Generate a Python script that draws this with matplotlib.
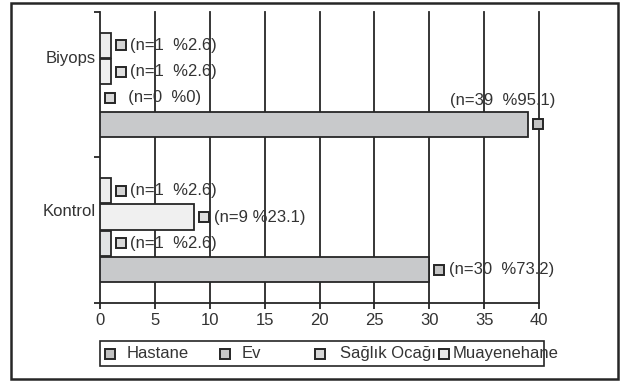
import matplotlib
matplotlib.use("Agg")
import numpy as np
import matplotlib.pyplot as plt
from matplotlib.patches import Rectangle
from matplotlib.lines import Line2D

plt.rcParams['font.family'] = ['Liberation Sans', 'DejaVu Sans']

# data (Biyops, Kontrol)
groups = ['Biyops', 'Kontrol']
series = ['Hastane', 'Ev', 'Sağlık Ocağı', 'Muayenehane']
hastane = [39, 30]
ev = [0, 1]
saglik = [1, 8.6]
muayene = [1, 1]
labels_hastane = ['(n=39  %95.1)', '(n=30  %73.2)']
labels_ev = ['  (n=0  %0)', '(n=1  %2.6)']
labels_saglik = ['(n=1  %2.6)', '(n=9 %23.1)']
labels_muayene = ['(n=1  %2.6)', '(n=1  %2.6)']
xticks = [0, 5, 10, 15, 20, 25, 30, 35, 40]

values = [hastane, ev, saglik, muayene]
labels = [labels_hastane, labels_ev, labels_saglik, labels_muayene]
bar_colors = ['#c8c9cb', '#e2e3e4', '#f0f0f0', '#ececec']
mark_colors = ['#c4c4c4', '#d9d9d9', '#dedede', '#d4d4d4']
ink = '#262626'
txt = '#333333'

fig = plt.figure(figsize=(6.22, 3.82), dpi=100)
ax = fig.add_axes([100/622, 1-303/382, 439/622, 291/382])

centers = [1.5, 0.5]  # Biyops on top
step = 0.181
shift = matplotlib.transforms.ScaledTranslation(7.2/72, 0, fig.dpi_scale_trans)
for j, (vals, labs) in enumerate(zip(values, labels)):
    for g in range(len(groups)):
        y = centers[g] + (j - 1.5) * step
        v = vals[g]
        if v > 0:
            ax.barh(y, v, height=0.175, color=bar_colors[j], edgecolor=ink,
                    linewidth=1.3, zorder=3)
        ax.plot([v], [y], marker='s', ms=7.5, mfc=mark_colors[j], mec=ink,
                mew=1.4, zorder=5, clip_on=False,
                transform=ax.transData + shift)
        if j == 0 and g == 0:
            ax.annotate(labs[g], xy=(v, y), xytext=(20, 17),
                        textcoords='offset points', ha='right', va='center',
                        fontsize=12, color=txt, zorder=6)
        else:
            ax.annotate(labs[g], xy=(v, y), xytext=(14, 0),
                        textcoords='offset points', ha='left', va='center',
                        fontsize=12, color=txt, zorder=6)

ax.set_xlim(0, 40)
ax.set_ylim(0, 2)
ax.set_xticks(xticks)
ax.set_xticklabels([str(t) for t in xticks])
for t in xticks[1:]:
    ax.axvline(t, color=ink, lw=1.3, zorder=1, clip_on=False)

ax.set_yticks([0, 1, 2])
ax.set_yticklabels([])
ax.set_yticks([1.69, 0.64], minor=True)
ax.set_yticklabels(groups, minor=True)
ax.tick_params(axis='y', which='minor', length=0, pad=3, labelsize=12,
               labelcolor=txt)
ax.tick_params(axis='y', which='major', length=4, width=1.3, color=ink,
               direction='out')
ax.tick_params(axis='x', length=4, width=1.3, color=ink, direction='out',
               labelsize=12, labelcolor=txt, pad=3)

for s in ['top', 'right']:
    ax.spines[s].set_visible(False)
for s in ['left', 'bottom']:
    ax.spines[s].set_color(ink)
    ax.spines[s].set_linewidth(1.3)

# legend box
W, H = 622, 382
fig.add_artist(Rectangle((100/W, 1-366/H), 444/W, 25/H, transform=fig.transFigure,
                         fill=False, edgecolor=ink, lw=1.2))
leg_x = [110, 225, 320, 444]
leg_colors = ['#c0c0c0', '#c8c8c8', '#d8d8d8', '#e8e8e8']
for name, lx, c in zip(series, leg_x, leg_colors):
    fig.add_artist(Line2D([lx/W], [1-353.5/H], marker='s', ms=7, mfc=c, mec=ink,
                          mew=1.4, transform=fig.transFigure))
    off = 17 if name != 'Sağlık Ocağı' else 20
    if name == 'Muayenehane':
        off = 9
    fig.text((lx+off)/W, 1-353.5/H, name, fontsize=12, color=txt,
             ha='left', va='center')

# outer frame
fig.add_artist(Rectangle((11/W, 1-379/H), 607/W, 376/H, transform=fig.transFigure,
                         fill=False, edgecolor=ink, lw=1.8))

fig.savefig('out.png', dpi=100)
